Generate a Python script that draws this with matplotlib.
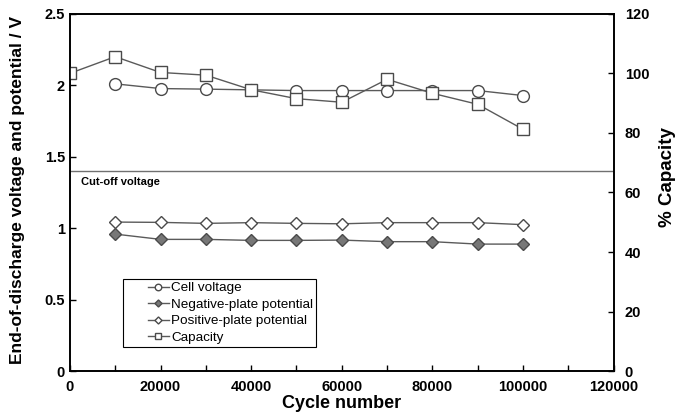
import matplotlib
matplotlib.use("Agg")
import matplotlib.pyplot as plt
from matplotlib.legend_handler import HandlerLine2D
import numpy as np

plt.rcParams['font.family'] = ['Liberation Sans', 'DejaVu Sans']

cycles = [10000, 20000, 30000, 40000, 50000, 60000, 70000, 80000, 90000, 100000]
cell_v = [2.01, 1.977, 1.973, 1.968, 1.963, 1.963, 1.963, 1.963, 1.963, 1.928]
neg_v = [0.959, 0.922, 0.922, 0.915, 0.915, 0.917, 0.906, 0.906, 0.889, 0.889]
pos_v = [1.043, 1.041, 1.034, 1.039, 1.034, 1.031, 1.039, 1.039, 1.039, 1.025]

cap_cycles = [0, 10000, 20000, 30000, 40000, 50000, 60000, 70000, 80000, 90000, 100000]
capacity = [100.0, 105.6, 100.3, 99.4, 94.5, 91.5, 90.3, 98.0, 93.3, 89.6, 81.2]

cutoff = 1.4

fig = plt.figure(figsize=(6.85, 4.18), dpi=100)
ax = fig.add_axes([0.102, 0.112, 0.794, 0.855])
ax2 = ax.twinx()

lc = '#5a5a5a'
ec = '#4a4a4a'
h1, = ax.plot(cycles, cell_v, '-o', color=lc, lw=1, ms=8.5, mfc='white', mec=ec, mew=1,
              label='Cell voltage')
h2, = ax.plot(cycles, neg_v, '-D', color=lc, lw=1, ms=6.5, mfc='#777777', mec=ec, mew=1,
              label='Negative-plate potential')
h3, = ax.plot(cycles, pos_v, '-D', color=lc, lw=1, ms=6.5, mfc='white', mec=ec, mew=1,
              label='Positive-plate potential')
h4, = ax2.plot(cap_cycles, capacity, '-s', color=lc, lw=1, ms=9, mfc='white', mec=ec, mew=1,
               label='Capacity')

ax.axhline(cutoff, color='#707070', lw=1)
ax.text(2500, cutoff - 0.04, 'Cut-off voltage', fontsize=8, fontweight='bold', va='top')

ax.set_xlim(0, 120000)
ax.set_ylim(0, 2.5)
ax2.set_ylim(0, 120)
ax.set_xticks(np.arange(0, 120001, 10000))
ax.set_xticklabels([str(v) if v % 20000 == 0 else '' for v in range(0, 120001, 10000)])
ax.set_yticks([0, 0.5, 1, 1.5, 2, 2.5])
ax.set_yticklabels(['0', '0.5', '1', '1.5', '2', '2.5'])
ax2.set_yticks(np.arange(0, 121, 20))

for a in (ax, ax2):
    a.tick_params(direction='in', length=4, width=1, labelsize=10.5)
    for lab in a.get_xticklabels() + a.get_yticklabels():
        lab.set_fontweight('bold')
    for s in a.spines.values():
        s.set_linewidth(1.2)
ax.tick_params(axis='x', pad=6)
ax2.tick_params(axis='y', pad=8)

ax.set_xlabel('Cycle number', fontsize=13, fontweight='bold', labelpad=1)
ax.set_ylabel('End-of-discharge voltage and potential / V', fontsize=12.5, fontweight='bold')
ax.yaxis.set_label_coords(-0.083, 0.507)
ax2.set_ylabel('% Capacity', fontsize=13.5, fontweight='bold')
ax2.yaxis.set_label_coords(1.083, 0.543)

hmap = {h: HandlerLine2D(xpad=1.6) for h in (h1, h2, h3, h4)}
leg = ax.legend(handles=[h1, h2, h3, h4], handler_map=hmap, loc='lower left',
                bbox_to_anchor=(0.097, 0.067),
                fontsize=9.7, handlelength=3.2, handletextpad=0.15, markerscale=0.55,
                fancybox=False, framealpha=1, edgecolor='black', borderpad=0.25,
                labelspacing=0.3, borderaxespad=0)
leg.get_frame().set_linewidth(0.8)

fig.savefig('out.png', dpi=100)
